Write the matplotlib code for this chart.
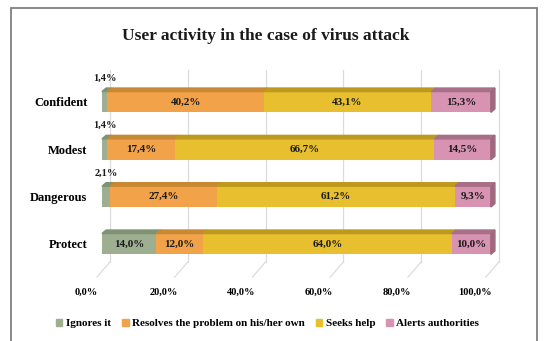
import matplotlib
matplotlib.use('Agg')
import matplotlib.pyplot as plt
from matplotlib.patches import Polygon, Patch, Rectangle
from matplotlib.transforms import ScaledTranslation

categories = ["Protect", "Dangerous", "Modest", "Confident"]
series_names = ["Ignores it", "Resolves the problem on his/her own",
                "Seeks help", "Alerts authorities"]
ignores = [14.0, 2.1, 1.4, 1.4]
resolves = [12.0, 27.4, 17.4, 40.2]
seeks = [64.0, 61.2, 66.7, 43.1]
alerts = [10.0, 9.3, 14.5, 15.3]
tick_values = [0, 20, 40, 60, 80, 100]
tick_labels = ["0,0%", "20,0%", "40,0%", "60,0%", "80,0%", "100,0%"]

front = ["#9daf90", "#f2a248", "#e8bf2e", "#d793b1"]
top = ["#7f9272", "#c98832", "#bd9a1c", "#a87088"]
side_col = "#a0687f"

plt.rcParams['font.family'] = ['Liberation Serif', 'DejaVu Serif']
fig = plt.figure(figsize=(5.46, 3.41), dpi=100)
ax = fig.add_axes([0.1654, 0.1804, 0.7692, 0.6246])
ax.set_xlim(-3, 105)
ax.set_ylim(-0.75, 3.75)

bar_h = 0.44
dx, dy = 1.05, 0.075  # depth of the bars in data units

# back wall gridlines + floor
for v in tick_values:
    ax.plot([v + 2.06, v + 2.06], [-0.38, 3.68], color="#dcdcdc", lw=0.9, zorder=0)
    ax.plot([v + 2.06, v - 1.3], [-0.38, -0.70], color="#dcdcdc", lw=0.9, zorder=0)

series = [ignores, resolves, seeks, alerts]
for i, cat in enumerate(categories):
    left = 0
    for k, vals in enumerate(series):
        w = vals[i]
        ax.barh(i, w, left=left, height=bar_h, color=front[k], zorder=2)
        yt = i + bar_h / 2
        ax.add_patch(Polygon([(left, yt), (left + w, yt), (left + w + dx, yt + dy),
                              (left + dx, yt + dy)], closed=True, color=top[k], zorder=2))
        txt = f"{w:.1f}%".replace(".", ",")
        if w < 5:
            ax.annotate(txt, (left + w / 2, yt + dy), xytext=(0, 7), textcoords="offset points",
                        ha="center", va="center", fontsize=7.5, fontweight="bold", color="#1a1a1a")
        else:
            ax.text(left + w / 2, i, txt, ha="center", va="center", fontsize=8,
                    fontweight="bold", color="#1a1a1a", zorder=3)
        left += w
    yb = i - bar_h / 2
    yt = i + bar_h / 2
    ax.add_patch(Polygon([(left, yb), (left, yt), (left + dx, yt + dy), (left + dx, yb + dy)],
                         closed=True, color=side_col, zorder=2))

for s in ax.spines.values():
    s.set_visible(False)
ax.set_yticks(range(len(categories)))
ax.set_yticklabels(categories, fontsize=9, fontweight="bold")
ax.set_xticks(tick_values)
ax.set_xticklabels(tick_labels, fontsize=7.5, fontweight="bold")
ax.tick_params(length=0, pad=6)
ax.tick_params(axis='y', pad=2)
off = ScaledTranslation(-16 / 100, 0, fig.dpi_scale_trans)
for lab in ax.get_xticklabels():
    lab.set_transform(lab.get_transform() + off)

fig.text(0.486, 0.894, "User activity in the case of virus attack", ha="center", va="center",
         fontsize=12.5, fontweight="bold", color="#1a1a1a")

handles = [Patch(color=c) for c in front]
fig.legend(handles, series_names, loc="center", bbox_to_anchor=(0.49, 0.052), ncol=4,
           frameon=False, prop={'weight': 'bold', 'size': 8},
           handlelength=0.6, handleheight=0.6, handletextpad=0.3, columnspacing=1.0)

fig.patches.append(Rectangle((11 / 546, -0.05), 526 / 546, 1.0265, transform=fig.transFigure,
                             fill=False, edgecolor="#7f7f7f", lw=1.3))

fig.savefig("out.png", dpi=100)
